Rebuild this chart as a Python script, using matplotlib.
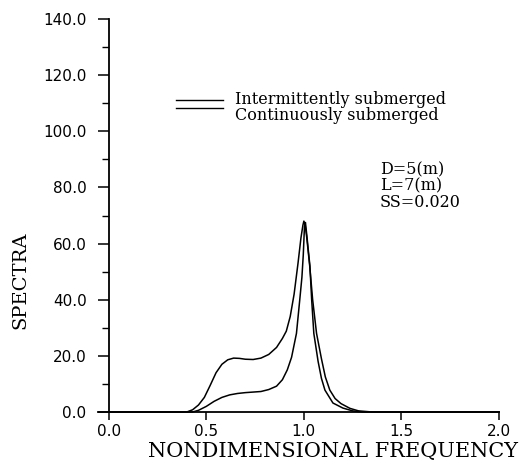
import matplotlib
matplotlib.use('Agg')
import matplotlib.pyplot as plt
from matplotlib.lines import Line2D
from matplotlib.ticker import MultipleLocator, FormatStrFormatter

# intermittently submerged (upper curve)
freq_int = [0.00, 0.40, 0.43, 0.46, 0.49, 0.52, 0.55, 0.58, 0.61, 0.64, 0.67, 0.70, 0.74,
            0.78, 0.82, 0.86, 0.89, 0.91, 0.93, 0.95, 0.97, 0.985, 0.995, 1.00, 1.006, 1.015,
            1.03, 1.045, 1.065, 1.09, 1.11, 1.133, 1.16, 1.19, 1.236, 1.28, 1.35, 2.00]
spec_int = [0.0, 0.0, 0.8, 2.5, 5.2, 9.5, 14.0, 17.0, 18.6, 19.2, 19.1, 18.8, 18.7,
            19.2, 20.5, 23.0, 26.2, 28.8, 34.0, 42.0, 53.0, 62.0, 66.5, 68.0, 67.0, 62.0,
            52.0, 40.0, 28.0, 19.0, 12.5, 7.8, 4.8, 3.0, 1.3, 0.4, 0.0, 0.0]

# continuously submerged (lower curve)
freq_con = [0.00, 0.43, 0.46, 0.50, 0.54, 0.58, 0.62, 0.66, 0.70, 0.74, 0.78, 0.82, 0.86,
            0.89, 0.915, 0.937, 0.962, 0.979, 0.99, 0.997, 1.003, 1.008, 1.015, 1.031, 1.04,
            1.051, 1.073, 1.09, 1.108, 1.149, 1.20, 1.25, 1.30, 2.00]
spec_con = [0.0, 0.0, 0.6, 2.0, 3.8, 5.2, 6.1, 6.6, 6.9, 7.1, 7.3, 8.0, 9.2,
            11.5, 15.0, 19.5, 28.0, 40.0, 48.0, 56.0, 66.0, 67.5, 63.0, 52.0, 40.0,
            28.0, 18.0, 12.0, 7.8, 3.2, 1.4, 0.4, 0.0, 0.0]

labels = ['Intermittently submerged', 'Continuously submerged']
note = 'D=5(m)\nL=7(m)\nSS=0.020'

W, H = 527, 467
fig = plt.figure(figsize=(W / 100, H / 100), dpi=100)
ax = fig.add_axes([98 / W, 55 / H, 401 / W, 393 / H])

ax.plot(freq_int, spec_int, color='black', lw=1.1, clip_on=False)
ax.plot(freq_con, spec_con, color='black', lw=1.1, clip_on=False)

ax.set_xlim(-0.055, 2.0)
ax.set_ylim(0, 140)
ax.spines['top'].set_visible(False)
ax.spines['right'].set_visible(False)
ax.spines['left'].set_position(('data', 0))
ax.spines['left'].set_linewidth(1.3)
ax.spines['bottom'].set_linewidth(1.3)

ax.xaxis.set_major_locator(MultipleLocator(0.5))
ax.xaxis.set_major_formatter(FormatStrFormatter('%.1f'))
ax.yaxis.set_major_locator(MultipleLocator(20))
ax.yaxis.set_minor_locator(MultipleLocator(10))
ax.yaxis.set_major_formatter(FormatStrFormatter('%.1f'))
ax.tick_params(axis='x', direction='out', length=6, width=1.1, pad=3, labelsize=11)
ax.tick_params(axis='y', which='major', direction='out', length=8, width=1.1, pad=8, labelsize=11)
ax.tick_params(axis='y', which='minor', direction='out', length=5, width=1.0)

def fx(px):
    return px / W

def fy(py):
    return 1 - py / H

# axis titles
fig.text(fx(333), fy(452), 'NONDIMENSIONAL FREQUENCY', family='DejaVu Serif',
         fontsize=15, ha='center', va='center')
fig.text(fx(20), fy(280), 'SPECTRA', family='DejaVu Serif', fontsize=14,
         rotation=90, ha='center', va='center')

# legend
for ly, ty, lab in [(100, 99, labels[0]), (108, 116, labels[1])]:
    fig.add_artist(Line2D([fx(176), fx(223)], [fy(ly), fy(ly)], color='black', lw=1.0,
                          transform=fig.transFigure))
    fig.text(fx(235), fy(ty), lab, family='DejaVu Serif', fontsize=11.5, va='center', ha='left')

fig.text(fx(380), fy(161), note, family='DejaVu Serif', fontsize=11.5, va='top',
         ha='left', linespacing=0.95)

fig.savefig('out.png', dpi=100)
